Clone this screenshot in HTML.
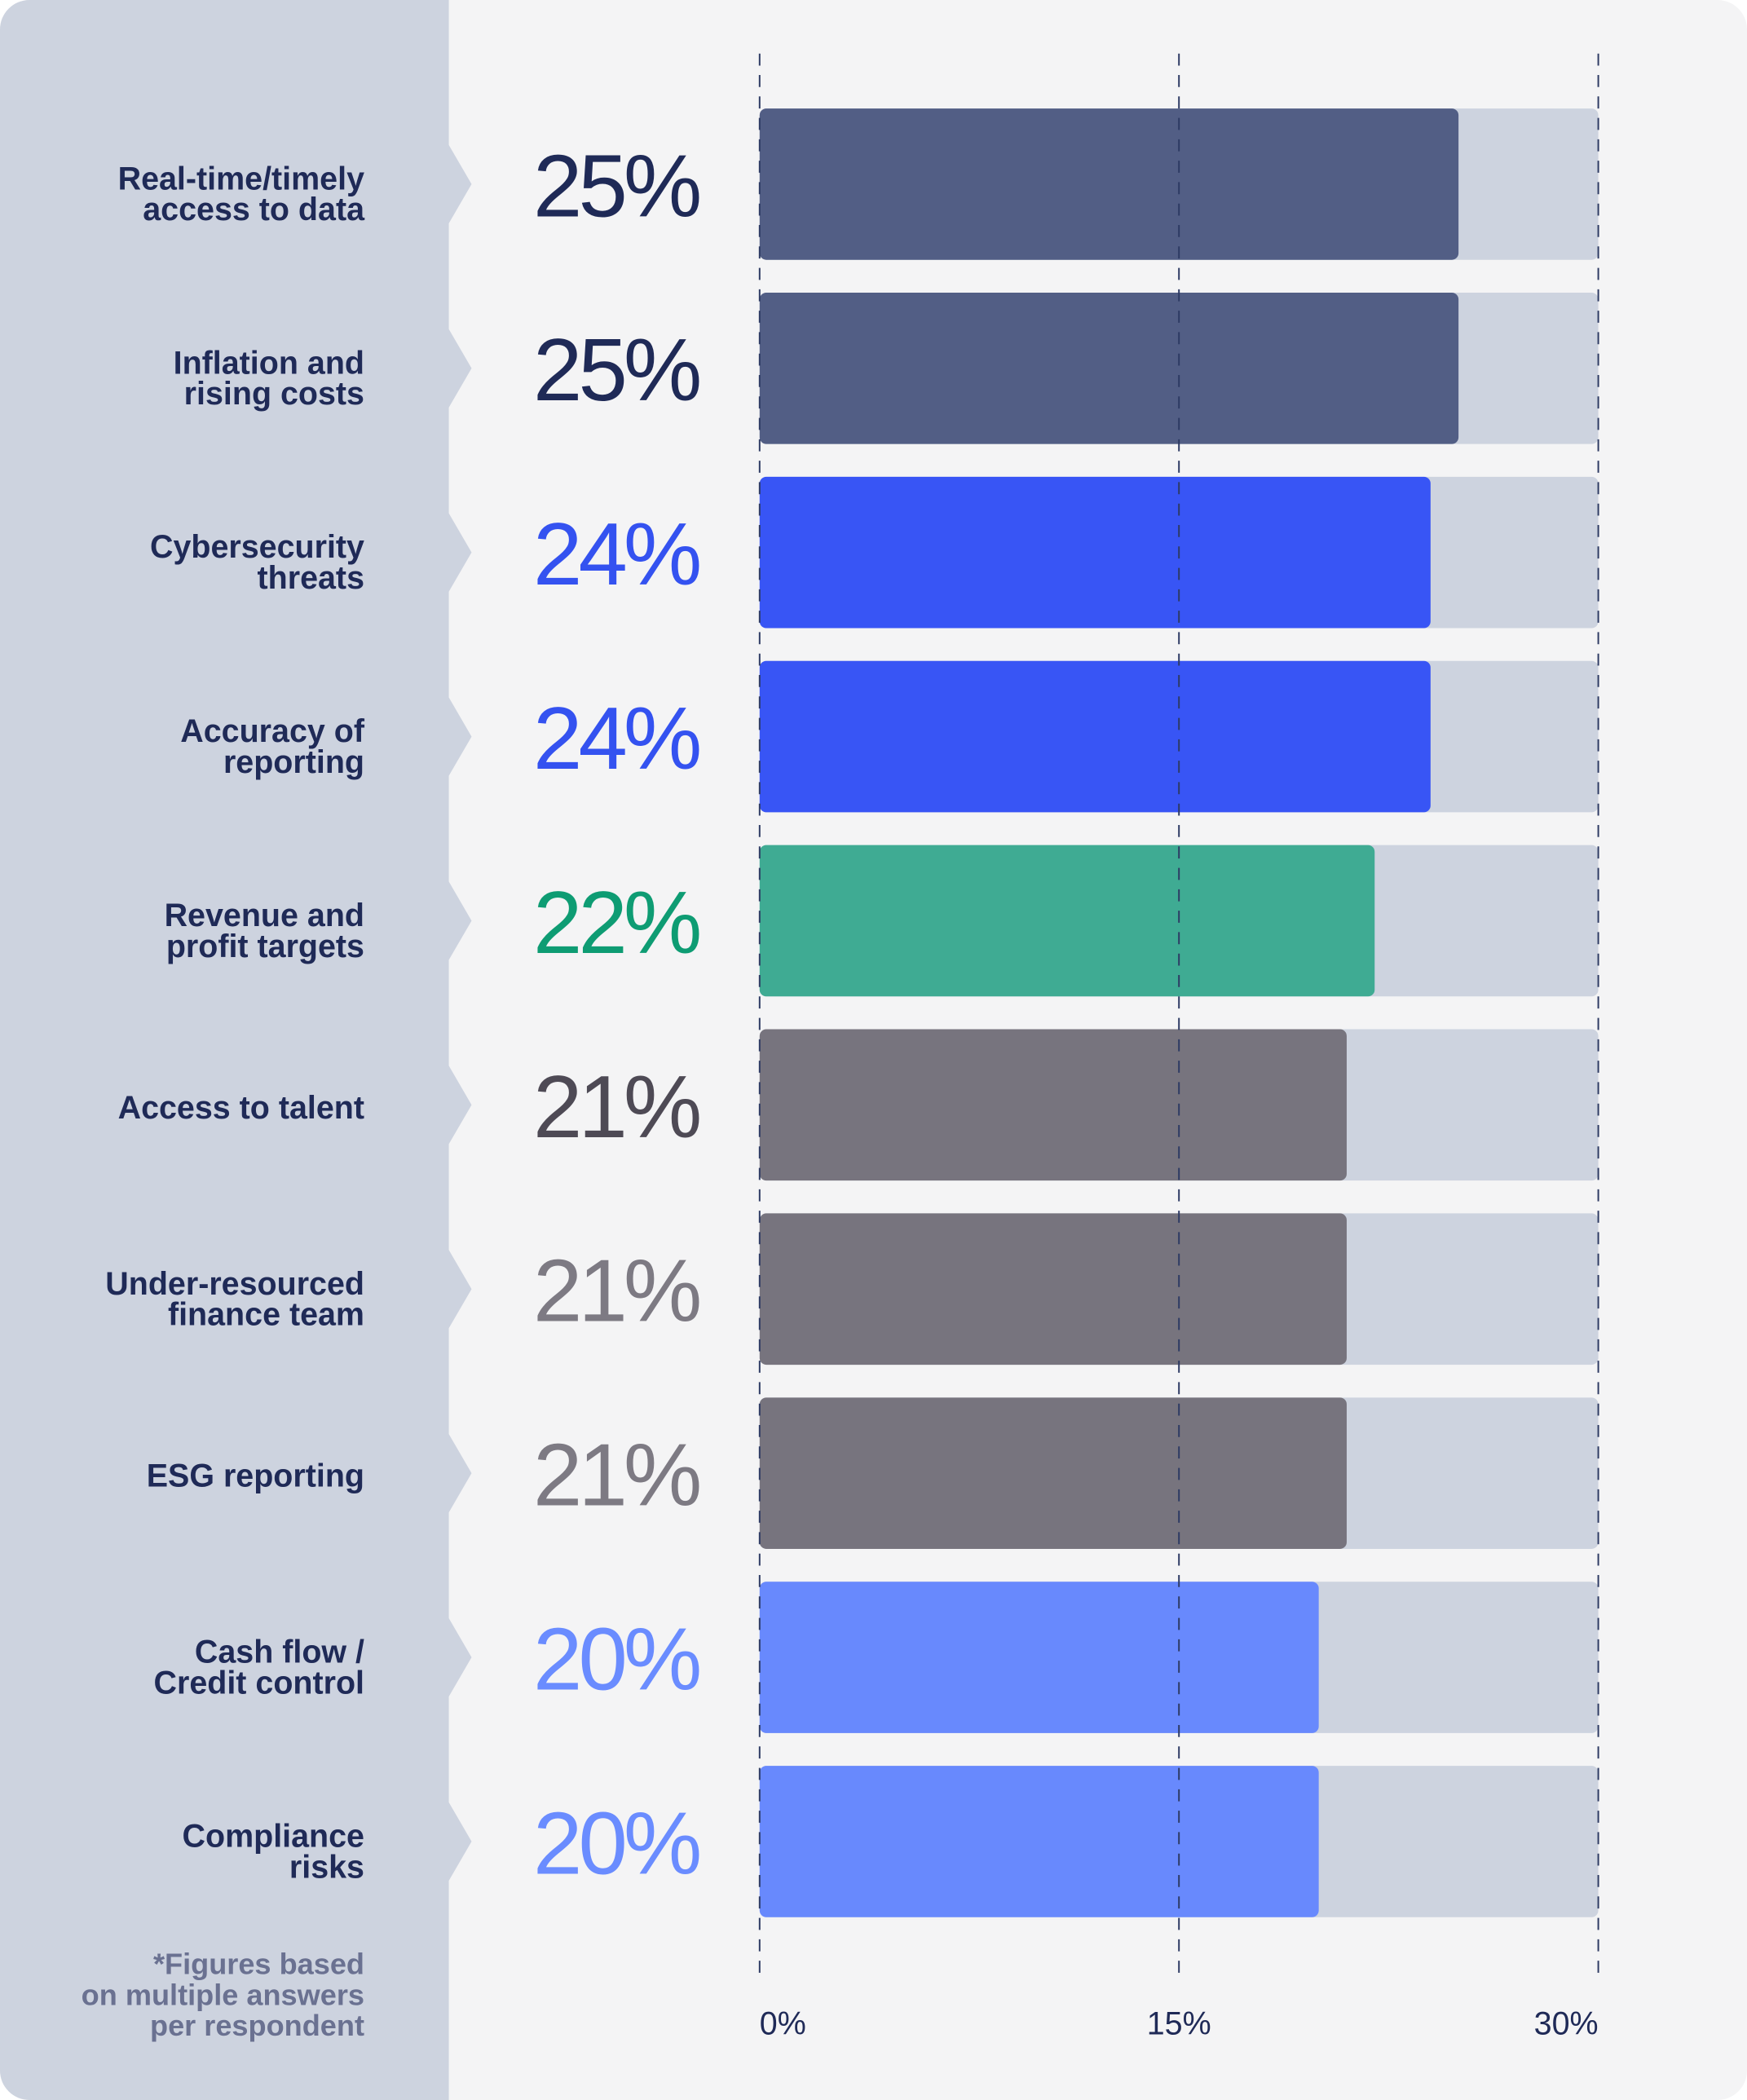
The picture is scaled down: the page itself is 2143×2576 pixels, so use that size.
<!DOCTYPE html>
<html><head><meta charset="utf-8"><style>
html,body{margin:0;padding:0;background:#fff;}
svg{display:block;}
text{font-family:"Liberation Sans",sans-serif;}
</style></head><body>
<svg id="chart" width="2143" height="2576" viewBox="0 0 1304 1568" preserveAspectRatio="none" xmlns="http://www.w3.org/2000/svg">
<rect x="0" y="0" width="1304" height="1568" rx="22" fill="#f4f4f5"/>
<path d="M22,0 H335 V1568 H22 A22,22 0 0 1 0,1546 V22 A22,22 0 0 1 22,0 Z" fill="#cdd3df"/>
<g id="rows"></g>
<g id="grid"></g>
<text x="272" y="1474" text-anchor="end" font-size="22" font-weight="bold" fill="#6a7191">*Figures based</text>
<text x="272" y="1497" text-anchor="end" font-size="22" font-weight="bold" fill="#6a7191">on multiple answers</text>
<text x="272" y="1520" text-anchor="end" font-size="22" font-weight="bold" fill="#6a7191">per respondent</text>
</svg>
<script>
const categories = [["Real-time/timely","access to data"],["Inflation and","rising costs"],["Cybersecurity","threats"],["Accuracy of","reporting"],["Revenue and","profit targets"],["Access to talent"],["Under-resourced","finance team"],["ESG reporting"],["Cash flow /","Credit control"],["Compliance","risks"]];
const values = [25,25,24,24,22,21,21,21,20,20];
const barColors = ["#525e85","#525e85","#3855f5","#3855f5","#3fab93","#77747e","#77747e","#77747e","#6889fd","#6889fd"];
const textColors = ["#1f2a57","#1f2a57","#3452f0","#3452f0","#0e9c73","#4e4a55","#7d7a83","#7d7a83","#6a8cff","#6a8cff"];
const ticks = [0,15,30];
const NS="http://www.w3.org/2000/svg";
const x0=567,x1=1193,maxV=30;
const xs=v=>x0+(x1-x0)*v/maxV;
const rowTop=i=>81+i*137.5;
const barH=113;
const rows=document.getElementById('rows');
const grid=document.getElementById('grid');
function mk(tag,attrs,parent){const e=document.createElementNS(NS,tag);for(const k in attrs)e.setAttribute(k,attrs[k]);parent.appendChild(e);return e;}
values.forEach((v,i)=>{
  const t=rowTop(i),c=t+barH/2;
  const n=mk('path',{d:`M334,${c-31} L352,${c} L334,${c+31} Z`,fill:'#cdd3df'},rows);
  
  
  const tr=mk('rect',{x:x0,y:t,width:x1-x0,height:barH,rx:5,fill:'#cdd3df'},rows);
  
  
  const b=mk('rect',{x:x0,y:t,width:xs(v)-x0,height:barH,rx:5,fill:barColors[i]},rows);
  
  
  const pv=mk('text',{x:398,y:c+24,'font-size':66,'letter-spacing':-3,fill:textColors[i]},rows);
  pv.textContent=v+'%';
  
  
  const lines=categories[i];
  lines.forEach((ln,j)=>{
    const y=lines.length===1?c+10:c+4+j*23;
    const tx=mk('text',{x:272,y:y,'text-anchor':'end','font-size':24,'font-weight':'bold',fill:'#1f2a57'},rows);
    tx.textContent=ln;
    
    
  });
});
ticks.forEach(tk=>{
  const x=xs(tk);
  const l=mk('line',{x1:x,y1:40,x2:x,y2:1480,stroke:'#2d3a63','stroke-width':1.2,'stroke-dasharray':'9 7'},grid);
  
  
  const t=mk('text',{x:x,y:1519,'text-anchor':tk===0?'start':(tk===30?'end':'middle'),'font-size':24,fill:'#1f2a57'},grid);
  t.textContent=tk+'%';
  
  
});
</script>
</body></html>
